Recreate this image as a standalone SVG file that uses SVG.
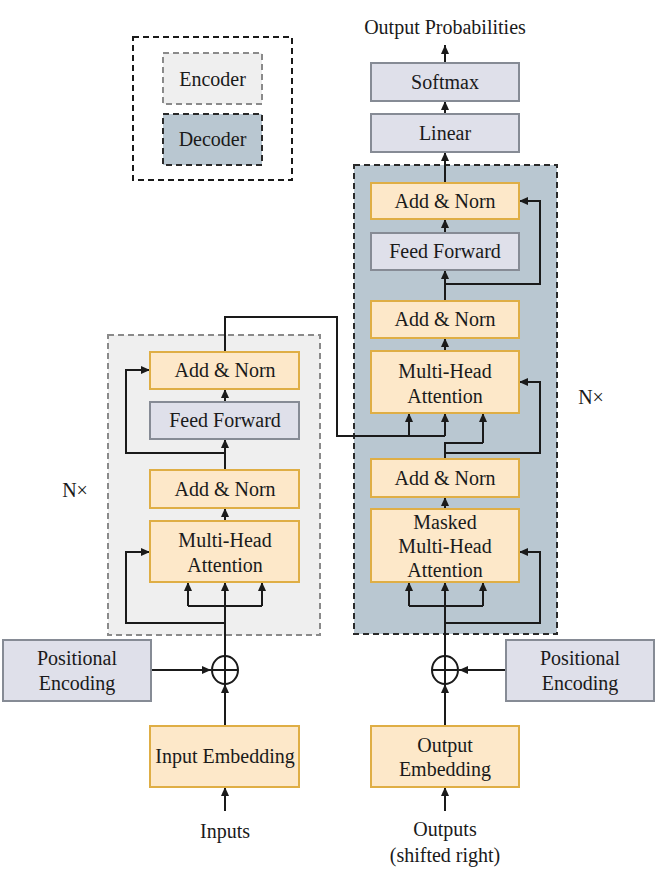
<svg xmlns="http://www.w3.org/2000/svg" width="665" height="884" viewBox="0 0 665 884">
<style>
text{font-size:20px;fill:#1a1a1a;text-anchor:middle}
.or{fill:#fde8c9;stroke:#dfae45;stroke-width:2}
.gr{fill:#dfe0ea;stroke:#868b95;stroke-width:2}
.enc{fill:#efefef;stroke:#8a8a8a;stroke-width:2;stroke-dasharray:6,4}
.dec{fill:#b9c7d1;stroke:#2a2a2a;stroke-width:2;stroke-dasharray:6,4}
.leg{fill:#ffffff;stroke:#1a1a1a;stroke-width:2;stroke-dasharray:6,4}
.c{fill:none;stroke:#1a1a1a;stroke-width:2}
.a{marker-end:url(#ar)}
</style>
<defs>
<marker id="ar" markerWidth="9" markerHeight="8" refX="9" refY="4" orient="auto" markerUnits="userSpaceOnUse">
<path d="M0,0 L9,4 L0,8 z" fill="#1a1a1a"/>
</marker>
</defs>
<rect width="665" height="884" fill="#ffffff"/>
<g font-family="Liberation Serif, DejaVu Serif, serif">

<g id="legend">
<rect class="leg" x="133" y="37" width="159" height="143"/>
<rect class="enc" x="163" y="53" width="99" height="51"/>
<text x="212.5" y="86">Encoder</text>
<rect class="dec" x="163" y="114" width="99" height="51"/>
<text x="212.5" y="146">Decoder</text>
</g>

<g id="encoder-block"><rect class="enc" x="108" y="335" width="212" height="300"/></g>
<g id="decoder-block"><rect class="dec" x="354" y="165" width="203" height="469"/></g>

<g id="connectors">
<line class="c a" x1="445" y1="63" x2="445" y2="45"/>
<line class="c a" x1="445" y1="114" x2="445" y2="101"/>
<line class="c a" x1="445" y1="183" x2="445" y2="152"/>
<line class="c a" x1="445" y1="233" x2="445" y2="219"/>
<line class="c a" x1="445" y1="301" x2="445" y2="270"/>
<polyline class="c a" points="445,284 540,284 540,201 519,201"/>
<line class="c a" x1="445" y1="351" x2="445" y2="338"/>
<polyline class="c" points="225,352 225,317 337,317 337,436 445,436"/>
<line class="c a" x1="409" y1="436" x2="409" y2="413"/>
<line class="c a" x1="445" y1="436" x2="445" y2="413"/>
<polyline class="c" points="445,459 445,443 483,443"/>
<line class="c a" x1="483" y1="443" x2="483" y2="413"/>
<polyline class="c a" points="445,453 540,453 540,382 519,382"/>
<line class="c a" x1="445" y1="509" x2="445" y2="497"/>
<line class="c a" x1="445" y1="656" x2="445" y2="582"/>
<polyline class="c" points="409,606 483,606"/>
<line class="c a" x1="409" y1="606" x2="409" y2="582"/>
<line class="c a" x1="483" y1="606" x2="483" y2="582"/>
<polyline class="c a" points="445,623 540,623 540,552 519,552"/>
<line class="c a" x1="225" y1="402" x2="225" y2="389"/>
<line class="c a" x1="225" y1="470" x2="225" y2="439"/>
<polyline class="c a" points="225,453 126,453 126,370 150,370"/>
<line class="c a" x1="225" y1="521" x2="225" y2="508"/>
<line class="c a" x1="225" y1="656" x2="225" y2="582"/>
<polyline class="c" points="188,606 262,606"/>
<line class="c a" x1="188" y1="606" x2="188" y2="582"/>
<line class="c a" x1="262" y1="606" x2="262" y2="582"/>
<polyline class="c a" points="225,623 126,623 126,552 150,552"/>
<line class="c a" x1="151" y1="670" x2="211" y2="670"/>
<line class="c a" x1="506" y1="670" x2="459" y2="670"/>
<line class="c a" x1="225" y1="726" x2="225" y2="684"/>
<line class="c a" x1="445" y1="726" x2="445" y2="684"/>
<line class="c a" x1="225" y1="811" x2="225" y2="787"/>
<line class="c a" x1="445" y1="811" x2="445" y2="787"/>
</g>

<g id="output-probabilities"><text x="445" y="34">Output Probabilities</text></g>
<g id="softmax"><rect class="gr" x="371" y="63" width="148" height="38"/><text x="445" y="89">Softmax</text></g>
<g id="linear"><rect class="gr" x="371" y="114" width="148" height="38"/><text x="445" y="140">Linear</text></g>

<g id="dec-addnorm3"><rect class="or" x="371" y="183" width="148" height="36"/><text x="445" y="208">Add &amp; Norn</text></g>
<g id="dec-ff"><rect class="gr" x="371" y="233" width="148" height="37"/><text x="445" y="258">Feed Forward</text></g>
<g id="dec-addnorm2"><rect class="or" x="371" y="301" width="148" height="37"/><text x="445" y="326">Add &amp; Norn</text></g>
<g id="dec-mha"><rect class="or" x="371" y="351" width="148" height="62"/><text x="445" y="378">Multi-Head</text><text x="445" y="403">Attention</text></g>
<g id="dec-addnorm1"><rect class="or" x="371" y="459" width="148" height="38"/><text x="445" y="485">Add &amp; Norn</text></g>
<g id="dec-masked-mha"><rect class="or" x="371" y="509" width="148" height="73"/><text x="445" y="529">Masked</text><text x="445" y="553">Multi-Head</text><text x="445" y="577">Attention</text></g>

<g id="enc-addnorm2"><rect class="or" x="150" y="352" width="149" height="37"/><text x="225" y="377">Add &amp; Norn</text></g>
<g id="enc-ff"><rect class="gr" x="150" y="402" width="149" height="37"/><text x="225" y="427">Feed Forward</text></g>
<g id="enc-addnorm1"><rect class="or" x="150" y="470" width="149" height="38"/><text x="225" y="496">Add &amp; Norn</text></g>
<g id="enc-mha"><rect class="or" x="150" y="521" width="149" height="61"/><text x="225" y="547">Multi-Head</text><text x="225" y="572">Attention</text></g>

<g id="enc-n"><text x="75" y="497">N×</text></g>
<g id="dec-n"><text x="591" y="404">N×</text></g>

<g id="enc-add">
<ellipse cx="225" cy="670" rx="13" ry="14" fill="none" stroke="#1a1a1a" stroke-width="2"/>
<line class="c" x1="212" y1="670" x2="238" y2="670"/><line class="c" x1="225" y1="656" x2="225" y2="684"/>
</g>
<g id="dec-add">
<ellipse cx="445" cy="670" rx="13" ry="14" fill="none" stroke="#1a1a1a" stroke-width="2"/>
<line class="c" x1="432" y1="670" x2="458" y2="670"/><line class="c" x1="445" y1="656" x2="445" y2="684"/>
</g>

<g id="enc-posenc"><rect class="gr" x="3" y="640" width="148" height="61"/><text x="77" y="665">Positional</text><text x="77" y="690">Encoding</text></g>
<g id="dec-posenc"><rect class="gr" x="506" y="640" width="148" height="61"/><text x="580" y="665">Positional</text><text x="580" y="690">Encoding</text></g>

<g id="input-embedding"><rect class="or" x="150" y="726" width="149" height="61"/><text x="225" y="763">Input Embedding</text></g>
<g id="output-embedding"><rect class="or" x="371" y="726" width="148" height="61"/><text x="445" y="752">Output</text><text x="445" y="776">Embedding</text></g>

<g id="inputs"><text x="225" y="838">Inputs</text></g>
<g id="outputs"><text x="445" y="836">Outputs</text><text x="445" y="862">(shifted right)</text></g>
</g>
</svg>
